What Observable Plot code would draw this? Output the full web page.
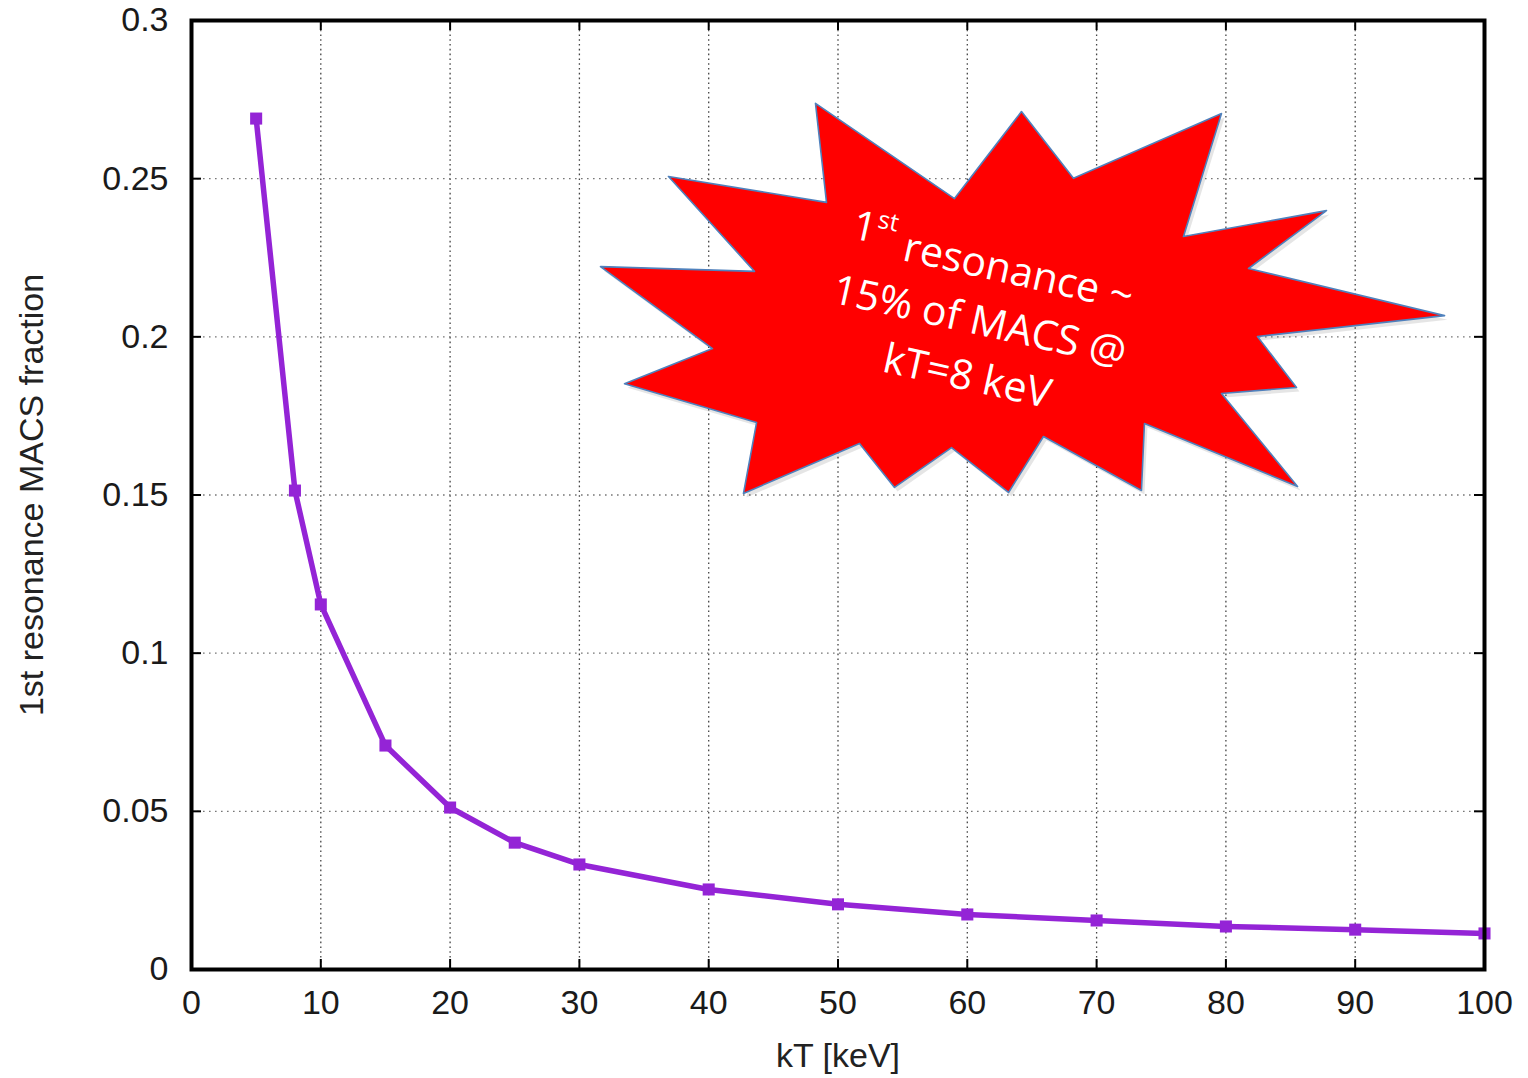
<!DOCTYPE html>
<html>
<head>
<meta charset="utf-8">
<script src="https://cdn.jsdelivr.net/npm/d3@7"></script>
<script src="https://cdn.jsdelivr.net/npm/@observablehq/plot@0.6"></script>
<style>
  html, body { margin: 0; padding: 0; background: #fff; }
  #chart { width: 1528px; height: 1078px; }
</style>
</head>
<body>
<div id="chart"></div>
<script>
// ---- data ----
const kT = [5, 8, 10, 15, 20, 25, 30, 40, 50, 60, 70, 80, 90, 100];
const fraction = [0.269, 0.1514, 0.1154, 0.0708, 0.0512, 0.0401, 0.0332, 0.0253, 0.0206, 0.0174, 0.0155, 0.0136, 0.0126, 0.0114];
const xTicks = [0, 10, 20, 30, 40, 50, 60, 70, 80, 90, 100];
const yTicks = [0, 0.05, 0.1, 0.15, 0.2, 0.25, 0.3];
const yTickLabels = ["0", "0.05", "0.1", "0.15", "0.2", "0.25", "0.3"];
const xLabel = "kT [keV]";
const yLabel = "1st resonance MACS fraction";
// starburst annotation outline (data units)
const burstX = [48.26, 59.01, 64.19, 68.21, 79.66, 76.72, 87.78, 81.75, 96.91, 82.44, 85.46, 79.66, 85.54, 73.70, 73.47, 65.89, 63.19, 58.78, 54.37, 51.66, 42.69, 43.70, 33.49, 40.29, 31.63, 43.54, 36.89, 49.11];
const burstY = [0.2738, 0.2437, 0.2712, 0.2501, 0.2706, 0.2317, 0.2399, 0.2216, 0.2067, 0.2001, 0.1840, 0.1821, 0.1527, 0.1726, 0.1514, 0.1685, 0.1508, 0.1650, 0.1524, 0.1663, 0.1505, 0.1729, 0.1852, 0.1963, 0.2222, 0.2207, 0.2507, 0.2425];
const noteLines = ["1st resonance ~", "15% of MACS @", "kT=8 keV"];
const noteX = 61.2;
const noteY = 0.2096;

// ---- tables ----
const series = kT.map((k, i) => ({kT: k, f: fraction[i]}));
const burst = burstX.map((x, i) => ({x, y: burstY[i]}));
const note = [{x: noteX, y: noteY, text: noteLines.join("\n")}];

const font = "'Liberation Sans', Arial, Helvetica, sans-serif";
const purple = "#9424d6";

const chart = Plot.plot({
  width: 1528,
  height: 1078,
  marginLeft: 191,
  marginRight: 44,
  marginTop: 20,
  marginBottom: 109,
  style: {fontFamily: font, background: "#fff", overflow: "visible"},
  x: {domain: [0, 100], label: null},
  y: {domain: [0, 0.3], label: null},
  marks: [
    // dotted grid
    Plot.ruleX(xTicks.slice(1, -1), {x: d => d, stroke: "#444", strokeWidth: 1.3, strokeDasharray: "1.6,3.2"}),
    Plot.ruleY(yTicks.slice(1, -1), {y: d => d, stroke: "#777", strokeWidth: 1.3, strokeDasharray: "1.6,4.4"}),
    // inward ticks on all sides
    Plot.ruleX(xTicks, {x: d => d, insetTop: 939, stroke: "#000", strokeWidth: 2}),
    Plot.ruleX(xTicks, {x: d => d, insetBottom: 939, stroke: "#000", strokeWidth: 2}),
    Plot.ruleY(yTicks, {y: d => d, insetRight: 1283, stroke: "#000", strokeWidth: 2}),
    Plot.ruleY(yTicks, {y: d => d, insetLeft: 1283, stroke: "#000", strokeWidth: 2}),
    // axes labels
    Plot.axisX(xTicks, {anchor: "bottom", tickSize: 0, tickPadding: 20, fontSize: 34, fill: "#1a1a1a", label: null, tickFormat: d => String(d)}),
    Plot.axisY(yTicks, {anchor: "left", tickSize: 0, tickPadding: 23, fontSize: 34, fill: "#1a1a1a", label: null, tickFormat: d => yTickLabels[yTicks.indexOf(d)]}),
    Plot.text([xLabel], {frameAnchor: "bottom", dy: 97, fontSize: 34, fill: "#222", text: d => d}),
    Plot.text([yLabel], {frameAnchor: "left", dx: -159, rotate: -90, textAnchor: "middle", fontSize: 34, fill: "#222", text: d => d}),
    // data
    Plot.line(series, {x: "kT", y: "f", stroke: purple, strokeWidth: 5.5, strokeLinejoin: "round"}),
    Plot.dot(series, {x: "kT", y: "f", symbol: "square", r: 6.8, fill: purple, stroke: null}),
    // starburst annotation
    Plot.line(burst, {x: "x", y: "y", curve: "linear-closed", fill: "#000", fillOpacity: 0.1, stroke: null, dx: 3, dy: 4}),
    Plot.line(burst, {x: "x", y: "y", curve: "linear-closed", fill: "#ff0000", stroke: "#4f81bd", strokeWidth: 1.6}),
    Plot.text(note, {x: "x", y: "y", text: "text", rotate: 12.5, fontSize: 41, lineHeight: 1.38, fill: "#fff", fontFamily: "'Open Sans', sans-serif", className: "burst-note"}),
    // frame
    Plot.frame({stroke: "#000", strokeWidth: 4})
  ]
});

document.getElementById("chart").appendChild(chart);

// superscript "st" in the annotation's first line
d3.select(chart).selectAll(".burst-note tspan").each(function() {
  const t = d3.select(this);
  const s = t.text();
  if (s.startsWith("1st")) {
    t.text("");
    t.append("tspan").text("1");
    t.append("tspan").attr("font-size", "0.6em").attr("dy", "-0.65em").text("st");
    t.append("tspan").attr("dy", "0.65em").text(s.slice(3));
  }
});
</script>
</body>
</html>
